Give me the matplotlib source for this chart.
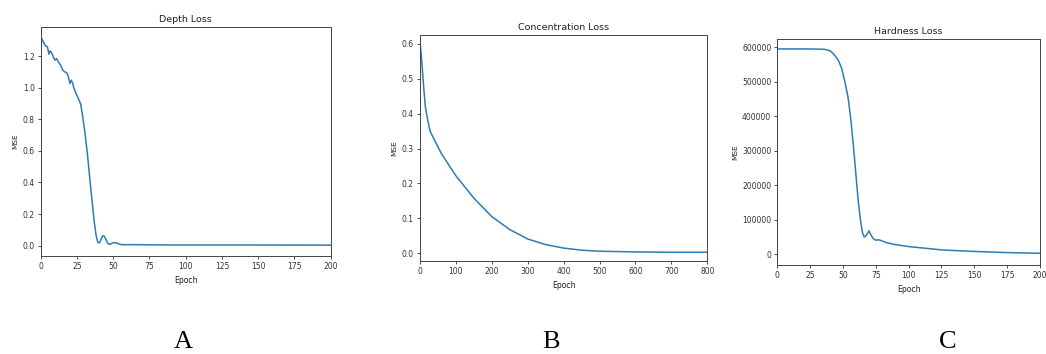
import numpy as np
import matplotlib
matplotlib.use('Agg')
import matplotlib.pyplot as plt

# Valores
depth_epoch = [0, 1.8, 3.4, 4.6, 5.7, 6.4, 7.6, 8.7, 9.9, 11, 12.2, 13.8, 15.2, 16.8, 18, 19,
               20.2, 21.1, 22, 23, 24.4, 26, 27.6, 29, 30.6, 32.2, 34, 35.4, 36.8, 38.2, 39.3,
               40.5, 41.6, 42.8, 43.9, 45, 46.4, 47.8, 50.1, 52, 53.6, 55.9, 64, 87, 133, 200]
depth_mse = [1.327, 1.29, 1.264, 1.26, 1.213, 1.234, 1.221, 1.196, 1.175, 1.185, 1.164, 1.143,
             1.111, 1.10, 1.094, 1.073, 1.027, 1.048, 1.031, 0.995, 0.963, 0.932, 0.896, 0.816,
             0.71, 0.583, 0.414, 0.287, 0.161, 0.065, 0.023, 0.017, 0.038, 0.063, 0.059, 0.038,
             0.013, 0.008, 0.019, 0.017, 0.011, 0.006, 0.006, 0.004, 0.004, 0.003]

conc_epoch = [0, 5, 10, 15, 20, 28, 40, 60, 100, 150, 200, 250, 300, 350, 400, 450, 500,
              600, 700, 800]
conc_mse = [0.61, 0.55, 0.48, 0.42, 0.39, 0.35, 0.325, 0.285, 0.222, 0.158, 0.105, 0.068,
            0.041, 0.025, 0.015, 0.009, 0.006, 0.004, 0.003, 0.003]

hard_epoch = [0, 25, 36, 40, 42.6, 46.4, 49, 51.5, 54, 55.9, 57.9, 59.9, 61.7, 63.5, 65,
              66.3, 68, 69.8, 71.3, 73.1, 75, 77, 79, 83, 90, 101, 126, 152, 175, 200]
hard_mse = [595000, 595000, 594000, 590000, 582000, 563000, 539000, 500000, 452000, 394000,
            317000, 230000, 152000, 94500, 61000, 50000, 56000, 68000, 56000, 45000, 41000,
            42000, 40000, 34000, 28000, 22000, 12500, 8000, 5000, 3000]

titulos = ['Depth Loss', 'Concentration Loss', 'Hardness Loss']
letras = ['A', 'B', 'C']

color_linea = '#2f7bb3'

fig = plt.figure(figsize=(10.46, 3.54), dpi=100)

# posiciones de cada panel (medidas en pixeles de la imagen)
rects = [[0.0389, 0.2768, 0.2772, 0.6469],
         [0.4015, 0.2627, 0.2747, 0.6384],
         [0.7431, 0.2514, 0.2511, 0.6376]]

datos = [(depth_epoch, depth_mse), (conc_epoch, conc_mse), (hard_epoch, hard_mse)]
xlims = [(0, 200), (0, 800), (0, 200)]
ylims = [(-0.066, 1.385), (-0.022, 0.625), (-31000, 623000)]
xticks = [np.arange(0, 201, 25), np.arange(0, 801, 100), np.arange(0, 201, 25)]
yticks = [np.arange(0, 1.21, 0.2), np.arange(0, 0.61, 0.1), np.arange(0, 600001, 100000)]

for i in range(3):
    ax = fig.add_axes(rects[i])
    x, y = datos[i]
    ax.plot(x, y, color=color_linea, linewidth=1.1)
    ax.set_xlim(*xlims[i])
    ax.set_ylim(*ylims[i])
    ax.set_xticks(xticks[i])
    ax.set_yticks(yticks[i])
    if i == 2:
        ax.set_yticklabels([str(int(v)) for v in yticks[i]])
    else:
        ax.set_yticklabels([f'{v:.1f}' for v in yticks[i]])
    ax.tick_params(labelsize=5.5, length=2.5, width=0.6, pad=1.8, colors='#333333')
    for s in ax.spines.values():
        s.set_linewidth(0.7)
        s.set_color('#444444')
    ax.set_title(titulos[i], fontsize=6.8, pad=3.5, color='#222222')
    ax.set_xlabel('Epoch', fontsize=5.6, labelpad=3.5, color='#222222')
    ax.set_ylabel('MSE', fontsize=5.3, labelpad=3, color='#222222')

# letras de cada panel
posx = [183, 551, 948]
for i in range(3):
    fig.text(posx[i] / 1046, 1 / 354, letras[i], family='Liberation Serif',
             fontsize=19, ha='center', va='bottom')

fig.savefig('out.png', dpi=100)
